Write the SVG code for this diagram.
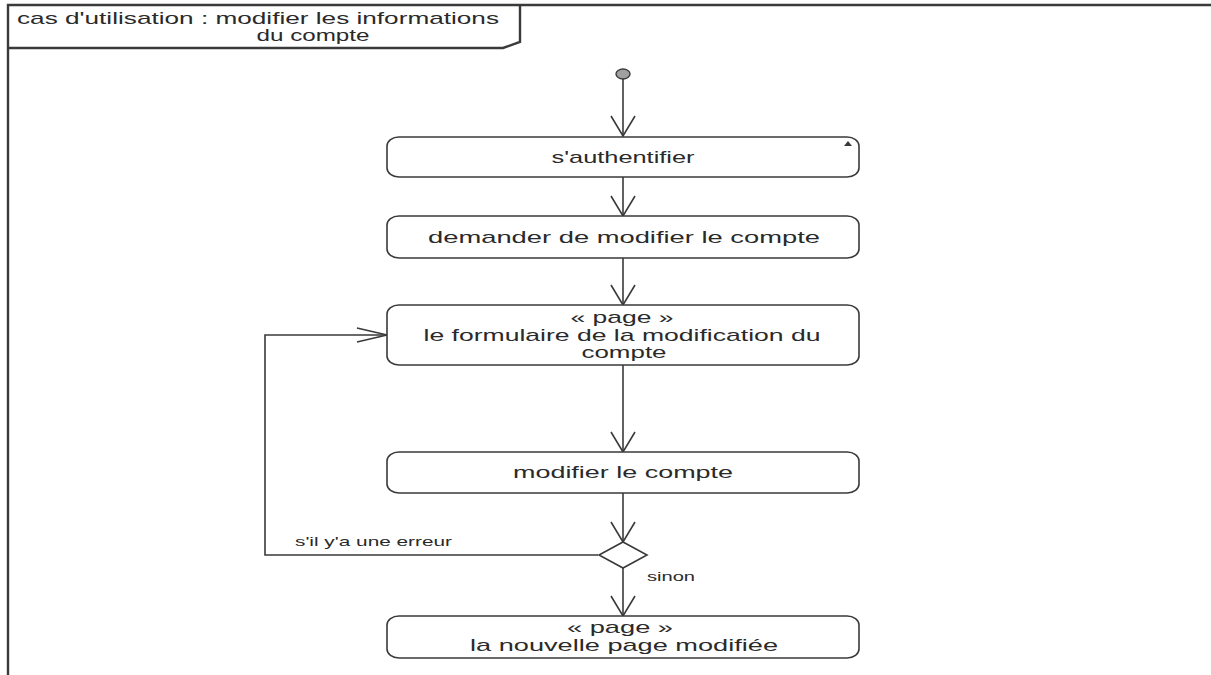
<svg xmlns="http://www.w3.org/2000/svg" width="1211" height="675" viewBox="0 0 1211 675">
  <defs>
    <style>
      .frame { fill: none; stroke: #3a3a3a; stroke-width: 2.4; }
      .node { fill: #ffffff; stroke: #3a3a3a; stroke-width: 1.6; }
      .edge { fill: none; stroke: #3a3a3a; stroke-width: 1.6; }
      .lbl { font-family: "Liberation Sans", Arial, sans-serif; font-size: 17px; fill: #2a2a2a; text-anchor: middle; }
      .guard { font-family: "Liberation Sans", Arial, sans-serif; font-size: 13px; fill: #2a2a2a; }
    </style>
    <!-- open V arrowhead for vertical flows -->
    <marker id="arrV" markerUnits="userSpaceOnUse" viewBox="0 0 22 26" markerWidth="22" markerHeight="26" refX="21" refY="13" orient="auto">
      <path d="M1,1 L21,13 L1,25" fill="none" stroke="#3a3a3a" stroke-width="1.6"/>
    </marker>
    <!-- open V arrowhead for the horizontal return flow -->
    <marker id="arrH" markerUnits="userSpaceOnUse" viewBox="0 0 32 16" markerWidth="32" markerHeight="16" refX="31" refY="8" orient="auto">
      <path d="M1,1 L31,8 L1,15" fill="none" stroke="#3a3a3a" stroke-width="1.6"/>
    </marker>
  </defs>

  <rect x="0" y="0" width="1211" height="675" fill="#ffffff"/>

  <!-- diagram frame and title tab -->
  <g id="frame">
    <path class="frame" d="M8,675 L8,5 L1211,5"/>
    <path class="frame" d="M8,48 L503,48 L520,42 L520,5"/>
    <text class="lbl" x="258" y="24" textLength="482" lengthAdjust="spacingAndGlyphs">cas d'utilisation : modifier les informations</text>
    <text class="lbl" x="313" y="41" textLength="113" lengthAdjust="spacingAndGlyphs">du compte</text>
  </g>

  <!-- connectors -->
  <g id="connectors">
    <line class="edge" x1="623" y1="79" x2="623" y2="136" marker-end="url(#arrV)"/>
    <line class="edge" x1="623" y1="177" x2="623" y2="216" marker-end="url(#arrV)"/>
    <line class="edge" x1="623" y1="258" x2="623" y2="305" marker-end="url(#arrV)"/>
    <line class="edge" x1="623" y1="365" x2="623" y2="452" marker-end="url(#arrV)"/>
    <line class="edge" x1="623" y1="493" x2="623" y2="542" marker-end="url(#arrV)"/>
    <line class="edge" x1="623" y1="568" x2="623" y2="616" marker-end="url(#arrV)"/>
    <polyline class="edge" points="598,555 265,555 265,335 387,335" marker-end="url(#arrH)"/>
    <text class="guard" x="295" y="546" textLength="157" lengthAdjust="spacingAndGlyphs">s'il y'a une erreur</text>
    <text class="guard" x="647" y="581" textLength="48" lengthAdjust="spacingAndGlyphs">sinon</text>
  </g>

  <g id="initial">
    <ellipse cx="623" cy="74" rx="7" ry="5" fill="#a0a0a0" stroke="#3a3a3a" stroke-width="1.4"/>
  </g>

  <g id="authentifier">
    <rect class="node" x="387" y="137" width="472" height="40" rx="12" ry="9"/>
    <polygon points="844,146 848,141 852,146" fill="#3a3a3a"/>
    <text class="lbl" x="623" y="163" textLength="143" lengthAdjust="spacingAndGlyphs">s'authentifier</text>
  </g>

  <g id="demander">
    <rect class="node" x="387" y="216" width="472" height="42" rx="12" ry="9"/>
    <text class="lbl" x="624" y="243" textLength="392" lengthAdjust="spacingAndGlyphs">demander de modifier le compte</text>
  </g>

  <g id="formulaire">
    <rect class="node" x="387" y="305" width="472" height="60" rx="12" ry="9"/>
    <text class="lbl" x="622" y="323" textLength="103" lengthAdjust="spacingAndGlyphs">« page »</text>
    <text class="lbl" x="622" y="341" textLength="397" lengthAdjust="spacingAndGlyphs">le formulaire de la modification du</text>
    <text class="lbl" x="624" y="358" textLength="85" lengthAdjust="spacingAndGlyphs">compte</text>
  </g>

  <g id="modifier">
    <rect class="node" x="387" y="452" width="472" height="41" rx="12" ry="9"/>
    <text class="lbl" x="623" y="478" textLength="220" lengthAdjust="spacingAndGlyphs">modifier le compte</text>
  </g>

  <g id="decision">
    <polygon class="node" points="623,542 647,555 623,568 599,555"/>
  </g>

  <g id="nouvelle-page">
    <rect class="node" x="387" y="616" width="472" height="42" rx="12" ry="9"/>
    <text class="lbl" x="620" y="633" textLength="106" lengthAdjust="spacingAndGlyphs">« page »</text>
    <text class="lbl" x="624" y="651" textLength="308" lengthAdjust="spacingAndGlyphs">la nouvelle page modifiée</text>
  </g>
</svg>
